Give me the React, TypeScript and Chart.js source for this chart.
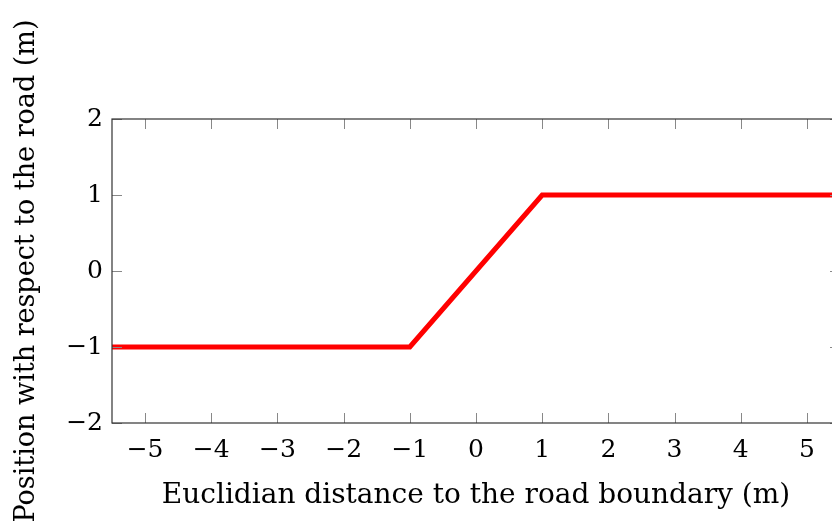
import React, { useEffect, useRef } from "react";
import { Chart, registerables } from "chart.js";

Chart.register(...registerables);

const xValues = [-5.5, -1, 1, 5.5];
const yValues = [-1, -1, 1, 1];
const xTicks = [-5, -4, -3, -2, -1, 0, 1, 2, 3, 4, 5];
const yTicks = [-2, -1, 0, 1, 2];
const xTitle = "Euclidian distance to the road boundary (m)";
const yTitle = "Position with respect to the road (m)";

const fmt = (v: number) => (v < 0 ? "\u2212" + Math.abs(v) : String(v));

const framePlugin = {
  id: "frame",
  afterDatasetsDraw(chart: any) {
    const { ctx, chartArea: a, scales } = chart;
    ctx.save();
    ctx.strokeStyle = "#888";
    ctx.lineWidth = 1;
    const L = 10;
    ctx.beginPath();
    for (const v of xTicks) {
      const x = Math.round(scales.x.getPixelForValue(v)) + 0.5;
      ctx.moveTo(x, a.bottom);
      ctx.lineTo(x, a.bottom - L);
      ctx.moveTo(x, a.top);
      ctx.lineTo(x, a.top + L);
    }
    for (const v of yTicks) {
      const y = Math.round(scales.y.getPixelForValue(v)) + 0.5;
      ctx.moveTo(a.left, y);
      ctx.lineTo(a.left + L, y);
      ctx.moveTo(a.right, y);
      ctx.lineTo(a.right - L, y);
    }
    ctx.stroke();
    ctx.strokeStyle = "#333";
    ctx.lineWidth = 1.2;
    ctx.strokeRect(a.left, a.top, a.right - a.left, a.bottom - a.top);
    ctx.restore();
  },
};

const FONT = "DejaVu Serif";

export default function App() {
  const ref = useRef<HTMLCanvasElement>(null);
  useEffect(() => {
    const canvas = ref.current!;
    const chart = new Chart(canvas, {
      type: "line",
      data: {
        datasets: [
          {
            data: xValues.map((x, i) => ({ x, y: yValues[i] })),
            borderColor: "#ff0000",
            borderWidth: 5,
            pointRadius: 0,
            fill: false,
            tension: 0,
          },
        ],
      },
      options: {
        animation: false,
        responsive: false,
        maintainAspectRatio: false,
        layout: { padding: { top: 119, right: 10, left: 0, bottom: 0 } },
        plugins: { legend: { display: false }, tooltip: { enabled: false } },
        scales: {
          x: {
            type: "linear",
            min: -5.5,
            max: 5.5,
            afterBuildTicks: (s: any) => {
              s.ticks = xTicks.map((v) => ({ value: v }));
            },
            afterFit: (s: any) => {
              s.height = 104;
            },
            grid: { display: false, drawTicks: false },
            border: { display: false },
            ticks: {
              autoSkip: false,
              maxRotation: 0,
              padding: 12,
              color: "#000",
              font: { family: FONT, size: 25 },
              callback: (v: any) => fmt(Number(v)),
            },
            title: {
              display: true,
              text: xTitle,
              color: "#000",
              font: { family: FONT, size: 28 },
              padding: { top: 0, bottom: 14 },
            },
          },
          y: {
            type: "linear",
            min: -2,
            max: 2,
            afterBuildTicks: (s: any) => {
              s.ticks = yTicks.map((v) => ({ value: v }));
            },
            afterFit: (s: any) => {
              s.width = 112;
            },
            grid: { display: false, drawTicks: false },
            border: { display: false },
            ticks: {
              padding: 9,
              color: "#000",
              font: { family: FONT, size: 25 },
              callback: (v: any) => fmt(Number(v)),
            },
            title: {
              display: true,
              text: yTitle,
              color: "#000",
              font: { family: FONT, size: 27 },
              padding: { top: 11, bottom: 0 },
            },
          },
        },
      },
      plugins: [framePlugin],
    });
    return () => chart.destroy();
  }, []);
  return (
    <div
      style={{
        position: "fixed",
        left: 0,
        top: 0,
        width: 832,
        height: 527,
        overflow: "hidden",
        background: "#fff",
      }}
    >
      <canvas ref={ref} width={850} height={527} style={{ display: "block" }} />
    </div>
  );
}
